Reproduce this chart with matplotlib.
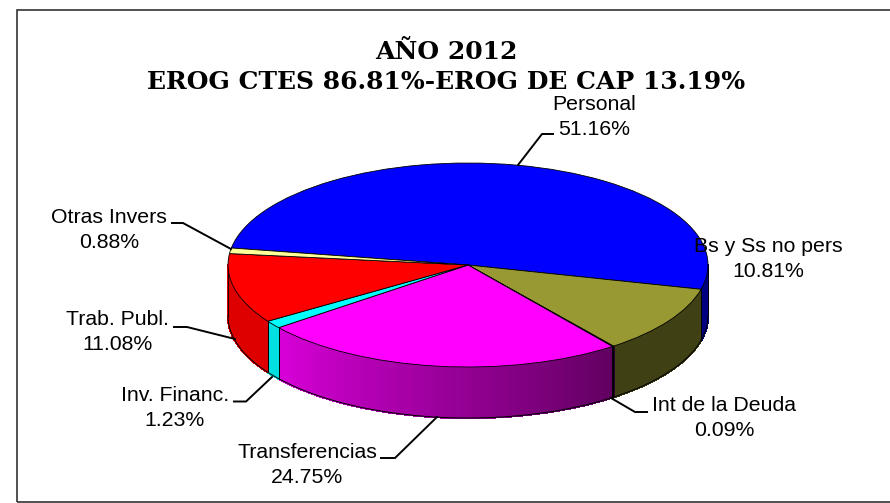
import matplotlib
matplotlib.use("Agg")
import matplotlib.pyplot as plt
from matplotlib.patches import Polygon, Rectangle
import numpy as np

W, H = 890, 503
# data
categories = ["Personal", "Bs y Ss no pers", "Int de la Deuda", "Transferencias",
              "Inv. Financ.", "Trab. Publ.", "Otras Invers"]
values = [51.16, 10.81, 0.09, 24.75, 1.23, 11.08, 0.88]
colors = ["#0000FF", "#999933", "#660066", "#FF00FF", "#00FFFF", "#FF0000", "#FFFF99"]
title = "AÑO 2012\nEROG CTES 86.81%-EROG DE CAP 13.19%"

# layout (pixels)
CX, CY, RX, RY, DEPTH = 468, 265, 240, 102, 51
START = 170.4
shade = [(0.50, 0.50), (0.42, 0.42), (0.40, 0.40), (0.38, 0.85), (0.88, 0.88), (0.87, 0.87), (0.87, 0.87)]
label_pos = [(594, 117), (768, 259), (724, 418), (307, 465), (175, 408), (117, 332), (109, 230)]
leaders = [[(518, 165), (542, 134), (553, 134)],
           None,
           [(611, 398), (635, 412), (647, 412)],
           [(437, 417), (395, 458), (381, 458)],
           [(272, 377), (246, 401.5), (234, 401.5)],
           [(235, 339), (187, 327), (174, 327)],
           [(231, 249), (183, 223), (172, 223)]]

fig = plt.figure(figsize=(W / 100, H / 100), dpi=100)
ax = fig.add_axes([0, 0, 1, 1])
wedges, _ = ax.pie(values, colors=colors, startangle=START, counterclock=False, radius=1,
                   wedgeprops=dict(edgecolor="black", linewidth=0.6, zorder=5))
ax.set_aspect("auto")
ax.set_xlim(-CX / RX, (W - CX) / RX)
ax.set_ylim((CY - H) / RY, CY / RY)
ax.set_frame_on(True)
for s in ax.spines.values():
    s.set_visible(False)

dy = DEPTH / RY
px = lambda x, y: ((x - CX) / RX, (CY - y) / RY)

# side wall, drawn from the same slice fractions
a = START
for val, col, (f0, f1) in zip(values, colors, shade):
    b = a - val * 3.6
    hi, lo = min(a, 0), max(b, -180)
    if hi > lo:
        ts = np.linspace(hi, lo, max(2, int(hi - lo) + 1))
        rgb = np.array(matplotlib.colors.to_rgb(col))
        for t0, t1 in zip(ts[:-1], ts[1:]):
            f = f0 + (f1 - f0) * (a - t0) / (a - b)
            r0, r1 = np.radians(t0), np.radians(t1)
            ax.add_patch(Polygon([(np.cos(r0), np.sin(r0)), (np.cos(r1), np.sin(r1)),
                                  (np.cos(r1), np.sin(r1) - dy), (np.cos(r0), np.sin(r0) - dy)],
                                 closed=True, facecolor=rgb * f, edgecolor=rgb * f,
                                 linewidth=1.0, antialiased=False, zorder=2))
        for t in (hi, lo):
            if -180 < t < 0:
                r = np.radians(t)
                ax.plot([np.cos(r)] * 2, [np.sin(r), np.sin(r) - dy], color="black", lw=0.6, zorder=3)
    a = b
tt = np.radians(np.linspace(-180, 0, 300))
ax.plot(np.cos(tt), np.sin(tt) - dy, color="black", lw=0.7, zorder=3)
ax.plot([-1, -1], [0, -dy], color="black", lw=0.6, zorder=3)
ax.plot([1, 1], [0, -dy], color="black", lw=0.6, zorder=3)

# frame (its right side lies past the picture edge)
ax.add_patch(Rectangle(px(16.8, 501.8), 900 / RX, 491.5 / RY, fill=False, edgecolor="#333333",
                       linewidth=1.2, zorder=1))

# title and labels
ax.text(*px(446, 67), title, ha="center", va="center", family="DejaVu Serif", weight="bold",
        fontsize=18, linespacing=1.3, zorder=8)
for name, val, (x, y), lead in zip(categories, values, label_pos, leaders):
    ax.text(*px(x, y), f"{name}\n{val:.2f}%", ha="center", va="center", family="Liberation Sans",
            fontsize=15.3, linespacing=1.36, zorder=8)
    if lead:
        xs, ys = zip(*[px(*p) for p in lead])
        ax.plot(xs, ys, color="black", lw=1.4, zorder=7)

fig.savefig("out.png", dpi=100)
